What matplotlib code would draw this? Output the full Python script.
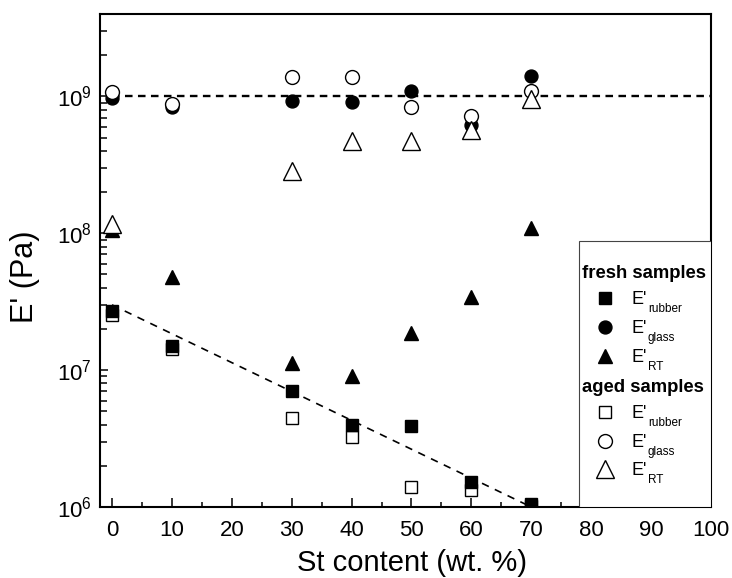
import matplotlib
matplotlib.use("Agg")
import matplotlib.pyplot as plt
import numpy as np
from matplotlib.patches import Rectangle

plt.rcParams["font.family"] = ["Liberation Sans", "DejaVu Sans"]
plt.rcParams["mathtext.fontset"] = "custom"
plt.rcParams["mathtext.rm"] = "Liberation Sans"

# St content (wt. %)
st_content = [0, 10, 30, 40, 50, 60, 70]

# fresh samples
fresh_rubber = [2.7e7, 1.5e7, 7.07e6, 4.0e6, 3.94e6, 1.53e6, 1.05e6]
fresh_glass = [9.75e8, 8.4e8, 9.2e8, 9.1e8, 1.1e9, 6.2e8, 1.4e9]
fresh_rt = [1.05e8, 4.8e7, 1.12e7, 9.0e6, 1.86e7, 3.45e7, 1.1e8]

# aged samples (no RT value visible at 10 wt.%)
aged_rubber = [2.55e7, 1.42e7, 4.5e6, 3.27e6, 1.39e6, 1.33e6, 1.02e6]
aged_glass = [1.07e9, 8.8e8, 1.38e9, 1.38e9, 8.3e8, 7.2e8, 1.1e9]
aged_rt = [1.17e8, np.nan, 2.85e8, 4.7e8, 4.7e8, 5.7e8, 9.5e8]

# guide lines
glass_line_x = [0, 100]
glass_line_y = [1e9, 1e9]
rubber_line_x = [0, 70]
rubber_line_y = [3.0e7, 1.0e6]

fig = plt.figure(figsize=(7.32, 5.78), dpi=100)
ax = fig.add_axes([0.1366, 0.1228, 0.8347, 0.8530])

# dashed guide lines
ax.plot(glass_line_x, glass_line_y, color="black", lw=1.7, dashes=(3.2, 2.3), zorder=1)
ax.plot(rubber_line_x, rubber_line_y, color="black", lw=1.2, dashes=(4.5, 4.0), zorder=1)

# data points (open squares under filled, open circles/triangles on top)
ax.plot(st_content, aged_rubber, "s", ms=9, mfc="white", mec="black", mew=1.0, ls="none", zorder=2)
ax.plot(st_content, fresh_rubber, "s", ms=8.5, color="black", ls="none", zorder=3)
ax.plot(st_content, fresh_glass, "o", ms=9.3, color="black", ls="none", zorder=3)
ax.plot(st_content, fresh_rt, "^", ms=10.5, color="black", ls="none", zorder=3)
ax.plot(st_content, aged_glass, "o", ms=10, mfc="white", mec="black", mew=1.0, ls="none", zorder=4)
ax.plot(st_content, aged_rt, "^", ms=12.5, mfc="white", mec="black", mew=1.0, ls="none", zorder=5)

# axes setup
ax.set_yscale("log")
ax.set_xlim(-2, 100)
ax.set_ylim(1e6, 4e9)
ax.set_xticks(np.arange(0, 101, 10))
ax.set_xticks(np.arange(0, 101, 5), minor=True)

for side in ["left", "bottom", "top", "right"]:
    ax.spines[side].set_linewidth(1.5)

ax.tick_params(which="both", direction="in", top=False, right=False, width=1.1, labelsize=16)
ax.tick_params(axis="x", which="major", length=6.5, pad=9)
ax.tick_params(axis="x", which="minor", length=3.5)
ax.tick_params(axis="y", which="major", length=6, pad=6)
ax.tick_params(axis="y", which="minor", length=5)

ax.set_xlabel("St content (wt. %)", fontsize=21)
ax.set_ylabel("E' (Pa)", fontsize=22)
ax.xaxis.set_label_coords(0.5106, -0.086)
ax.yaxis.set_label_coords(-0.098, 0.4665)

# legend box drawn by hand (axes fraction coordinates)
def fx(px):
    return (px - 100) / 611.0

def fy(py):
    return (507 - py) / 493.0

ax.add_patch(Rectangle((fx(579), 0), 1 - fx(579), fy(241), transform=ax.transAxes,
                       facecolor="white", edgecolor="#444444", lw=0.8, zorder=6))

rows = [
    ("header", "fresh samples", 273),
    (("s", "black", 8.5), "rubber", 298),
    (("o", "black", 9.3), "glass", 327),
    (("^", "black", 10.5), "RT", 356),
    ("header", "aged samples", 387),
    (("s", "white", 9), "rubber", 412),
    (("o", "white", 10), "glass", 441),
    (("^", "white", 12.5), "RT", 469),
]

for marker, text, py in rows:
    if marker == "header":
        ax.text(fx(582), fy(py), text, transform=ax.transAxes, fontsize=13.3,
                fontweight="bold", va="center", ha="left", zorder=7)
        continue
    m, face, size = marker
    ax.plot([fx(605)], [fy(py)], m, ms=size, mfc=face, mec="black", mew=1.0,
            transform=ax.transAxes, clip_on=False, zorder=7)
    ax.text(fx(632), fy(py + 6), "E'", transform=ax.transAxes, fontsize=13,
            va="baseline", ha="left", zorder=7)
    ax.text(fx(648), fy(py + 14), text, transform=ax.transAxes, fontsize=8.5,
            va="baseline", ha="left", zorder=7)

fig.savefig("out.png", dpi=100)
